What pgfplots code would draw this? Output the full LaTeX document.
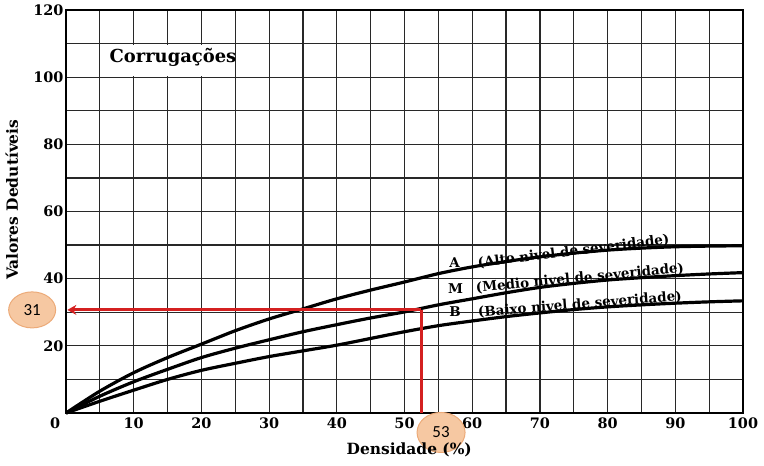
\documentclass[border=0pt]{standalone}
\usepackage{fontspec}
\setmainfont{DejaVu Serif}
\newfontfamily\calib{Carlito}
\usepackage{pgfplots}
\pgfplotsset{compat=1.18}
\usetikzlibrary{arrows.meta,shapes.geometric}
\definecolor{redline}{RGB}{212,32,32}
\definecolor{badgefill}{RGB}{246,200,162}
\definecolor{badgeedge}{RGB}{236,170,120}
\definecolor{gridc}{RGB}{40,40,40}
\begin{document}
\begin{tikzpicture}
\useasboundingbox (0,0) rectangle (764bp,466bp);
\begin{axis}[
  at={(66bp,53bp)}, anchor=south west,
  scale only axis, width=677bp, height=403bp,
  xmin=0, xmax=100, ymin=0, ymax=120,
  xtick={0,10,...,100}, xticklabels={,10,20,30,40,50,60,70,80,90,100},
  minor xtick={5,15,...,95},
  ytick={0,20,...,120}, yticklabels={,20,40,60,80,100,120},
  minor ytick={10,30,...,110},
  grid=both,
  major grid style={gridc, line width=1.2bp},
  minor grid style={gridc, line width=1.2bp},
  major tick length=0pt, minor tick length=0pt,
  axis line style={black, line width=1.5bp},
  tick label style={font=\fontsize{14.5}{15}\selectfont\bfseries},
  /pgf/number format/assume math mode=true,
  xticklabel style={yshift=-1bp},
  yticklabel style={xshift=1bp},
  xlabel={Densidade (\%)},
  ylabel={Valores Dedutíveis},
  label style={font=\fontsize{15.5}{16}\selectfont\bfseries},
  xlabel style={at={(axis description cs:0.507,-0.092)}, anchor=center},
  ylabel style={at={(axis description cs:-0.080,0.529)}, anchor=center, rotate=0},
  clip=false,
]
% A (Alto)
\addplot[black, line width=3.2bp, smooth] coordinates {
(0,0) (5,6.5) (10,12) (15,16.5) (20,20.5) (25,24.5) (30,28) (35,31) (40,34) (45,36.6) (50,39) (55,41.5) (60,43.5) (65,45.1) (70,46.5) (75,47.6) (80,48.5) (85,49.1) (90,49.5) (95,49.7) (100,49.8)};
% M (Medio)
\addplot[black, line width=3.2bp, smooth] coordinates {
(0,0) (5,5) (10,9.3) (15,13) (20,16.5) (25,19.3) (30,21.8) (35,24.2) (40,26.3) (45,28.3) (50,30.1) (55,32.2) (60,34) (65,35.8) (70,37.4) (75,38.6) (80,39.6) (85,40.3) (90,40.9) (95,41.4) (100,41.8)};
% B (Baixo)
\addplot[black, line width=3.2bp, smooth] coordinates {
(0,0) (5,3.5) (10,6.8) (15,10) (20,12.7) (25,14.8) (30,16.8) (35,18.5) (40,20.2) (45,22.2) (50,24.2) (55,26) (60,27.4) (65,28.7) (70,29.8) (75,30.8) (80,31.6) (85,32.2) (90,32.7) (95,33.1) (100,33.4)};
% red reading lines
\addplot[redline, line width=2.8bp] coordinates {(52.5,0) (52.5,30.7)};
\addplot[redline, line width=2.8bp, -{Stealth[length=9bp,width=10bp]}] coordinates {(52.5,30.7) (0.2,30.7)};
% title box
\fill[white] (axis cs:5.25,100.45) rectangle (axis cs:24.75,109.55);
\node[font=\fontsize{18}{18}\selectfont\bfseries] at (axis cs:15.8,106) {Corrugações};
% curve labels
\node[font=\fontsize{13.5}{14}\selectfont\bfseries, anchor=base west, inner sep=0pt] at (axis cs:56.6,43.2) {A};
\node[font=\fontsize{13.5}{14}\selectfont\bfseries, anchor=base west, inner sep=0pt, rotate=7] at (axis cs:60.9,43.4) {(Alto nivel de severidade)};
\node[font=\fontsize{13.5}{14}\selectfont\bfseries, anchor=base west, inner sep=0pt] at (axis cs:56.4,35.7) {M};
\node[font=\fontsize{13.5}{14}\selectfont\bfseries, anchor=base west, inner sep=0pt, rotate=5.5] at (axis cs:60.6,35.9) {(Medio nivel de severidade)};
\node[font=\fontsize{13.5}{14}\selectfont\bfseries, anchor=base west, inner sep=0pt] at (axis cs:56.6,28.6) {B};
\node[font=\fontsize{13.5}{14}\selectfont\bfseries, anchor=base west, inner sep=0pt, rotate=4.5] at (axis cs:60.9,28.7) {(Baixo nivel de severidade)};
% corner zero
\node[font=\fontsize{14.5}{15}\selectfont\bfseries, anchor=north, yshift=-1bp] at (axis cs:-1.6,0) {0};
% badges
\node[ellipse, fill=badgefill, draw=badgeedge, line width=1bp, minimum width=47bp, minimum height=36bp, inner sep=0pt, font=\calib\fontsize{17}{17}\selectfont] at (axis cs:-5.0,30.7) {31};
\node[ellipse, fill=badgefill, draw=badgeedge, line width=1bp, minimum width=48bp, minimum height=40bp, inner sep=0pt, font=\calib\fontsize{17}{17}\selectfont] at (axis cs:55.4,-5.8) {53};
\end{axis}
\end{tikzpicture}
\end{document}
